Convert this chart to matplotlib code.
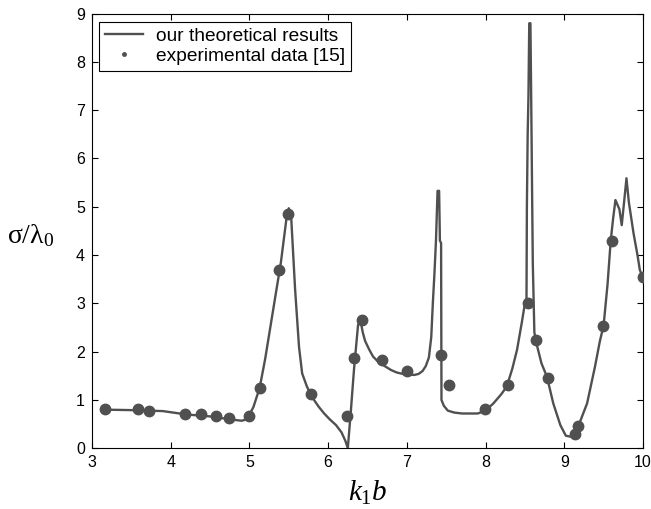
"""
Theoretical vs. experimental sigma/lambda0 over k1*b (reconstructed figure).
"""

import matplotlib

matplotlib.use("Agg")
import matplotlib.pyplot as plt
from matplotlib.lines import Line2D

# theoretical curve
theory_x = [
    3.15, 3.5, 3.9, 4.2, 4.5, 4.75, 4.9, 4.97, 5.05, 5.13, 5.2, 5.3, 5.4, 5.47,
    5.5, 5.53, 5.58, 5.63, 5.67, 5.73, 5.8, 5.88, 5.95, 6.02, 6.1, 6.17, 6.22,
    6.25, 6.29, 6.33, 6.38, 6.41, 6.44, 6.47, 6.52, 6.57, 6.63, 6.7, 6.8, 6.87,
    7.0, 7.1, 7.15, 7.2, 7.24, 7.28, 7.31, 7.33, 7.35, 7.37, 7.39, 7.41, 7.42,
    7.435, 7.44, 7.47, 7.52, 7.6, 7.7, 7.9, 8.0, 8.1, 8.2, 8.27, 8.34, 8.4,
    8.46, 8.5, 8.52, 8.525, 8.535, 8.545, 8.555, 8.57, 8.58, 8.59, 8.6, 8.62,
    8.65, 8.71, 8.78, 8.86, 8.95, 9.02, 9.08, 9.13, 9.2, 9.29, 9.39, 9.45, 9.5,
    9.55, 9.59, 9.62, 9.65, 9.7, 9.73, 9.76, 9.79, 9.82, 9.88, 9.93, 9.96, 10.0,
]
theory_y = [
    0.80, 0.79, 0.77, 0.70, 0.66, 0.60, 0.57, 0.60, 0.85, 1.25, 1.85, 2.85, 3.85, 4.75,
    4.97, 4.80, 3.30, 2.10, 1.55, 1.28, 1.05, 0.86, 0.72, 0.60, 0.48, 0.33, 0.15,
    0.0, 0.80, 1.66, 2.55, 2.65, 2.40, 2.22, 2.05, 1.90, 1.80, 1.72, 1.62, 1.57,
    1.52, 1.52, 1.54, 1.60, 1.70, 1.88, 2.30, 3.00, 3.60, 4.30, 5.33, 5.33, 4.30,
    4.25, 1.00, 0.88, 0.78, 0.74, 0.72, 0.72, 0.78, 0.93, 1.12, 1.28, 1.65, 2.04,
    2.60, 3.00, 3.10, 5.00, 6.50, 7.30, 8.80, 8.80, 7.20, 5.50, 3.84, 2.40,
    2.15, 1.76, 1.48, 0.93, 0.48, 0.26, 0.24, 0.30, 0.55, 0.93, 1.69, 2.20, 2.55,
    3.40, 4.30, 4.75, 5.14, 4.95, 4.62, 5.10, 5.59, 5.10, 4.45, 4.00, 3.69, 3.53,
]

# experimental points [15]
exp_x = [
    3.17, 3.59, 3.73, 4.18, 4.38, 4.58, 4.74, 4.99, 5.13, 5.38, 5.49, 5.78,
    6.24, 6.33, 6.43, 6.69, 7.0, 7.43, 7.54, 7.99, 8.29, 8.54, 8.64, 8.79,
    9.14, 9.18, 9.49, 9.6, 10.0,
]
exp_y = [
    0.81, 0.81, 0.78, 0.70, 0.70, 0.67, 0.62, 0.67, 1.24, 3.69, 4.85, 1.12,
    0.67, 1.87, 2.65, 1.82, 1.61, 1.94, 1.30, 0.81, 1.30, 3.00, 2.25, 1.46,
    0.29, 0.46, 2.54, 4.29, 3.54,
]

x_ticks = [3, 4, 5, 6, 7, 8, 9, 10]
y_ticks = [0, 1, 2, 3, 4, 5, 6, 7, 8, 9]

plt.rcParams["font.family"] = ["Liberation Sans", "DejaVu Sans"]
plt.rcParams["mathtext.fontset"] = "custom"
plt.rcParams["mathtext.rm"] = "Liberation Serif"
plt.rcParams["mathtext.it"] = "Liberation Serif:italic"

gray = "#505050"

fig = plt.figure(figsize=(6.51, 5.09), dpi=100)
ax = fig.add_axes([0.1413, 0.1193, 0.8464, 0.854])

ax.plot(theory_x, theory_y, color=gray, linewidth=1.7, zorder=2)
ax.plot(exp_x, exp_y, linestyle="none", marker="o", markersize=7.5,
        color=gray, markeredgecolor=gray, zorder=3)

ax.set_xlim(3, 10)
ax.set_ylim(0, 9)
ax.set_xticks(x_ticks)
ax.set_yticks(y_ticks)
ax.tick_params(direction="in", top=True, right=True, length=4,
               width=0.8, labelsize=11.5, pad=5)
for sp in ax.spines.values():
    sp.set_linewidth(0.8)

# axis labels, placed in figure pixels like the original
ax.set_xlabel(r"$k_1b$", fontsize=21, labelpad=6)
ax.set_ylabel(r"$\mathrm{σ/λ}_0$", fontsize=20, rotation=0, labelpad=0, va="center")
ax.yaxis.set_label_coords(-0.112, 0.49)

# legend: line + small dot like the original
handles = [
    Line2D([], [], color=gray, linewidth=1.7),
    Line2D([], [], linestyle="none", marker=".", markersize=5, color=gray),
]
labels = ["our theoretical results", "experimental data [15]"]
leg = ax.legend(handles, labels, loc="upper left", bbox_to_anchor=(0.0127, 0.9816),
                borderaxespad=0, fontsize=13.8, fancybox=False, framealpha=1,
                edgecolor="black", handlelength=2.0, handletextpad=0.7,
                labelspacing=0.15, borderpad=0.3)
leg.get_frame().set_linewidth(0.8)

fig.savefig("out.png", dpi=100)
